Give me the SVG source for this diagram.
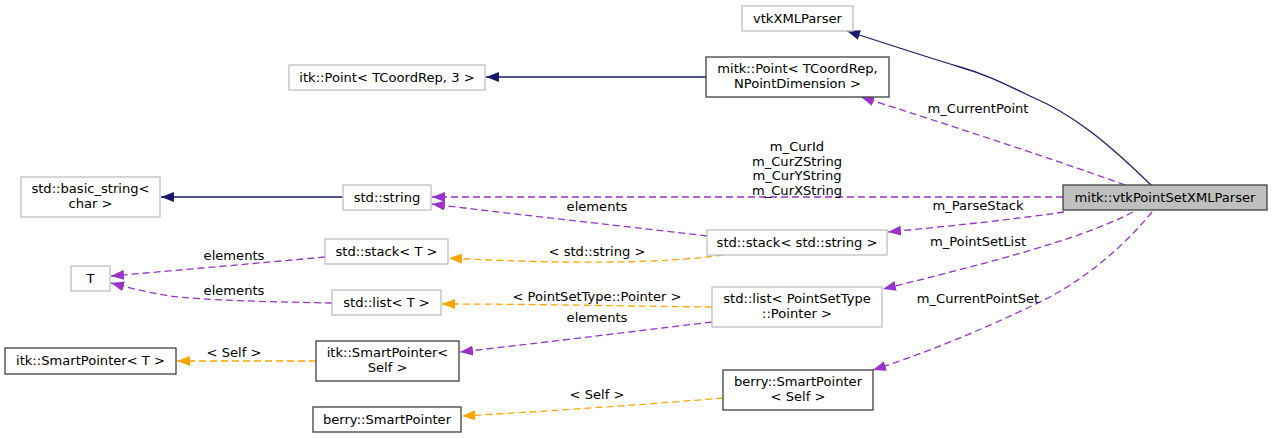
<svg xmlns="http://www.w3.org/2000/svg" width="1272" height="439" viewBox="0 0 1272 439">
<defs>
<style>
text{font-family:"DejaVu Sans","Liberation Sans",sans-serif;font-size:13.1px;fill:#000;text-anchor:middle}
.ext{fill:#fff;stroke:#bfbfbf;stroke-width:1.3}
.doc{fill:#fff;stroke:#404040;stroke-width:1.3}
.main{fill:#bfbfbf;stroke:#404040;stroke-width:1.3}
.inh{fill:none;stroke:#191970;stroke-width:1.3}
.use{fill:none;stroke:#9a32cd;stroke-width:1.3;stroke-dasharray:7,4}
.tpl{fill:none;stroke:#ffa500;stroke-width:1.3;stroke-dasharray:7,4}
</style>
<marker id="aN" markerUnits="userSpaceOnUse" viewBox="0 0 13 10" markerWidth="13" markerHeight="10" refX="13" refY="5" orient="auto"><path d="M0,0 L13,5 L0,10 z" fill="#191970"/></marker>
<marker id="aP" markerUnits="userSpaceOnUse" viewBox="0 0 13 10" markerWidth="13" markerHeight="10" refX="13" refY="5" orient="auto"><path d="M0,0 L13,5 L0,10 z" fill="#9a32cd"/></marker>
<marker id="aO" markerUnits="userSpaceOnUse" viewBox="0 0 13 10" markerWidth="13" markerHeight="10" refX="13" refY="5" orient="auto"><path d="M0,0 L13,5 L0,10 z" fill="#ffa500"/></marker>
</defs>
<rect width="1272" height="439" fill="#fff"/>
<g id="edges">
<path class="inh" marker-end="url(#aN)" d="M1152,186 C1110,145 1075,115 1030,96 C1005,84 985,74 960,67 C930,58 890,45 847,31"/>
<path class="inh" marker-end="url(#aN)" d="M706,77 L486,77"/>
<path class="use" marker-end="url(#aP)" d="M1125,185 C1070,165 950,125 861,97"/>
<text x="978" y="113">m_CurrentPoint</text>
<path class="inh" marker-end="url(#aN)" d="M343,197 L161,197"/>
<path class="use" marker-end="url(#aP)" d="M1063,197 L432,197"/>
<text x="797" y="151">m_CurId</text>
<text x="797" y="165.5">m_CurZString</text>
<text x="797" y="180">m_CurYString</text>
<text x="797" y="194.5">m_CurXString</text>
<path class="use" marker-end="url(#aP)" d="M707,236 C640,228 520,215 432,204"/>
<text x="597" y="211">elements</text>
<path class="use" marker-end="url(#aP)" d="M1064,212 C1010,220 950,226 888,232"/>
<text x="978" y="210">m_ParseStack</text>
<path class="tpl" marker-end="url(#aO)" d="M723,255 C660,264 560,264 449,258"/>
<text x="597" y="256">&lt; std::string &gt;</text>
<path class="use" marker-end="url(#aP)" d="M325,257 C260,263 180,270 111,276"/>
<text x="234" y="260">elements</text>
<path class="use" marker-end="url(#aP)" d="M332,303 C270,302 200,300 170,296 C150,293 130,288 111,283"/>
<text x="234" y="295">elements</text>
<path class="tpl" marker-end="url(#aO)" d="M712,307 C620,306 530,304 442,304"/>
<text x="597" y="301">&lt; PointSetType::Pointer &gt;</text>
<path class="use" marker-end="url(#aP)" d="M1133,212 C1080,240 980,265 883,289"/>
<text x="978" y="246">m_PointSetList</text>
<path class="use" marker-end="url(#aP)" d="M712,322 C620,333 540,343 460,352"/>
<text x="597" y="322">elements</text>
<path class="tpl" marker-end="url(#aO)" d="M316,361 L177,361"/>
<text x="234" y="357">&lt; Self &gt;</text>
<path class="use" marker-end="url(#aP)" d="M1152,212 C1125,245 1090,275 1050,297 C1000,322 935,350 873,370"/>
<text x="978" y="303">m_CurrentPointSet</text>
<path class="tpl" marker-end="url(#aO)" d="M723,398 C640,405 550,411 462,416"/>
<text x="597" y="399">&lt; Self &gt;</text>
</g>
<g id="vtkXMLParser"><rect class="ext" x="742" y="6" width="111" height="25"/><text x="797.5" y="23">vtkXMLParser</text></g>
<g id="itkPoint"><rect class="ext" x="289" y="65" width="196" height="25"/><text x="387" y="82">itk::Point&lt; TCoordRep, 3 &gt;</text></g>
<g id="mitkPoint"><rect class="doc" x="706" y="57" width="183" height="40"/><text x="797.5" y="73">mitk::Point&lt; TCoordRep,</text><text x="797.5" y="88">NPointDimension &gt;</text></g>
<g id="basicString"><rect class="ext" x="21" y="177" width="139" height="40"/><text x="90.5" y="193">std::basic_string&lt;</text><text x="90.5" y="208">char &gt;</text></g>
<g id="stdString"><rect class="ext" x="343" y="185" width="88" height="25"/><text x="387" y="202">std::string</text></g>
<g id="mainNode"><rect class="main" x="1063" y="185" width="204" height="25"/><text x="1165" y="202">mitk::vtkPointSetXMLParser</text></g>
<g id="T"><rect class="ext" x="71" y="266" width="39" height="25"/><text x="90.5" y="283">T</text></g>
<g id="stackT"><rect class="ext" x="325" y="239" width="123" height="25"/><text x="386.5" y="256">std::stack&lt; T &gt;</text></g>
<g id="stackString"><rect class="ext" x="707" y="230" width="180" height="25"/><text x="797" y="247">std::stack&lt; std::string &gt;</text></g>
<g id="listT"><rect class="ext" x="332" y="290" width="109" height="25"/><text x="386.5" y="307">std::list&lt; T &gt;</text></g>
<g id="listPointSet"><rect class="ext" x="712" y="287" width="170" height="40"/><text x="797" y="303">std::list&lt; PointSetType</text><text x="797" y="318">::Pointer &gt;</text></g>
<g id="itkSmartPointerT"><rect class="doc" x="5" y="348" width="171" height="26"/><text x="90.5" y="365">itk::SmartPointer&lt; T &gt;</text></g>
<g id="itkSmartPointerSelf"><rect class="doc" x="316" y="341" width="143" height="40"/><text x="387.5" y="357">itk::SmartPointer&lt;</text><text x="387.5" y="372">Self &gt;</text></g>
<g id="berrySmartPointer"><rect class="doc" x="313" y="407" width="148" height="25"/><text x="387" y="424">berry::SmartPointer</text></g>
<g id="berrySmartPointerSelf"><rect class="doc" x="723" y="370" width="150" height="40"/><text x="798" y="386">berry::SmartPointer</text><text x="798" y="401">&lt; Self &gt;</text></g>
</svg>
